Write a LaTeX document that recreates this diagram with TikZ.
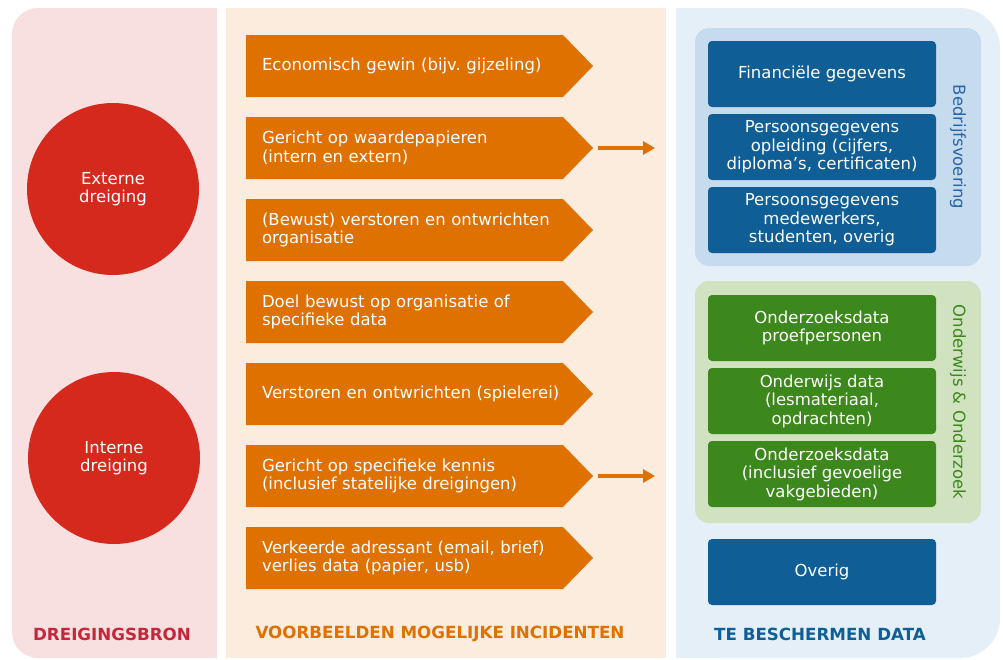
\documentclass[tikz,border=0pt]{standalone}
\usepackage{fontspec}
\setmainfont{DejaVu Sans}
\frenchspacing
\newcommand*{\boxfont}{\fontsize{16.5}{18.5}\selectfont}
\newcommand*{\labelfont}{\fontsize{16.7}{18}\selectfont\bfseries}
\definecolor{pinkbg}{RGB}{249,224,224}
\definecolor{peachbg}{RGB}{252,236,222}
\definecolor{panelblue}{RGB}{229,239,248}
\definecolor{groupblue}{RGB}{199,219,239}
\definecolor{groupgreen}{RGB}{208,226,192}
\definecolor{threatred}{RGB}{213,41,30}
\definecolor{srcred}{RGB}{198,38,58}
\definecolor{incorange}{RGB}{223,113,0}
\definecolor{bizblue}{RGB}{16,94,150}
\definecolor{bvblue}{RGB}{36,102,168}
\definecolor{edugreen}{RGB}{60,136,28}
\usepackage{tikz}
\usetikzlibrary{arrows.meta}
\usetikzlibrary{positioning}
\tikzstyle{base}=[x=1pt, y=-1pt, inner sep=0pt, outer sep=0pt]
\tikzstyle{threat}=[circle, fill=threatred, minimum size=172pt, text=white, align=center, font=\boxfont]
\tikzstyle{incident}=[rectangle, anchor=west, minimum height=62pt, text width=320pt, inner xsep=16pt, align=left, text=white, font=\boxfont]
\tikzstyle{bizbox}=[rectangle, rounded corners=4pt, fill=bizblue, minimum width=228pt, minimum height=66pt, align=center, text=white, font=\boxfont]
\tikzstyle{edubox}=[bizbox, fill=edugreen]
\tikzstyle{grouplabel}=[rotate=-90, font=\boxfont]
\tikzstyle{link}=[draw=incorange, line width=3.5pt, -{Triangle[length=12pt,width=13pt]}]

\begin{document}
\begin{tikzpicture}[base]
    \useasboundingbox (0,0) rectangle (1003,659);
    % panels
    \fill [pinkbg, rounded corners=26pt] (12,8) rectangle (217,658);
    \fill [pinkbg] (120,8) rectangle (217,658);
    \fill [peachbg] (226,8) rectangle (666,658);
    \fill [panelblue, rounded corners=40pt] (676,8) rectangle (1000,658);
    \fill [panelblue] (676,8) rectangle (800,658);
    \fill [groupblue, rounded corners=14pt] (695,28) rectangle (981,266);
    \fill [groupgreen, rounded corners=14pt] (695,281) rectangle (981,523);

    % dreigingsbron
    \node [threat] (ext) at (113,189) {Externe\\dreiging};
    \node [threat] (int) at (114,458) {Interne\\dreiging};

    % incidenten
    \foreach \n/\y/\t in {1/66/{Economisch gewin (bijv. gijzeling)},
        2/148/{Gericht op waardepapieren\\(intern en extern)},
        3/230/{(Bewust) verstoren en ontwrichten\\organisatie},
        4/312/{Doel bewust op organisatie of\\specifieke data},
        5/394/{Verstoren en ontwrichten (spielerei)},
        6/476/{Gericht op specifieke kennis\\(inclusief statelijke dreigingen)},
        7/558/{Verkeerde adressant (email, brief)\\verlies data (papier, usb)}}
    {
        \fill [incorange] (246,\y-31) -- (563,\y-31) -- (593,\y) -- (563,\y+31) -- (246,\y+31) -- cycle;
        \node [incident] (inc\n) at (246,\y) {\t};
    }
    \coordinate (toBV) at (655,148);
    \coordinate (toOO) at (655,476);
    \draw [link] (inc2) -- (toBV);
    \draw [link] (inc6) -- (toOO);

    % te beschermen data
    \node [bizbox] (fin) at (822,74) {Financiële gegevens};
    \node [bizbox, below=7pt of fin] (pgo) {Persoonsgegevens\\opleiding (cijfers,\\diploma’s, certificaten)};
    \node [bizbox, below=7pt of pgo] (pgm) {Persoonsgegevens\\medewerkers,\\studenten, overig};
    \node [edubox] (ozp) at (822,328) {Onderzoeksdata\\proefpersonen};
    \node [edubox, below=7pt of ozp] (owd) {Onderwijs data\\(lesmateriaal,\\opdrachten)};
    \node [edubox, below=7pt of owd] (ozg) {Onderzoeksdata\\(inclusief gevoelige\\vakgebieden)};
    \node [bizbox] (ovr) at (822,572) {Overig};
    \node [grouplabel, text=bvblue] (bv) at (958,147) {Bedrijfsvoering};
    \node [grouplabel, text=edugreen] (oo) at (958,402) {Onderwijs \& Onderzoek};

    % kolomtitels
    \node [font=\labelfont, text=srcred] (srclab) at (112,634) {DREIGINGSBRON};
    \node [font=\labelfont, text=incorange] (inclab) at (440,634) {VOORBEELDEN MOGELIJKE INCIDENTEN};
    \node [font=\labelfont, text=bizblue] (datlab) at (820,634) {TE BESCHERMEN DATA};
\end{tikzpicture}
\end{document}
